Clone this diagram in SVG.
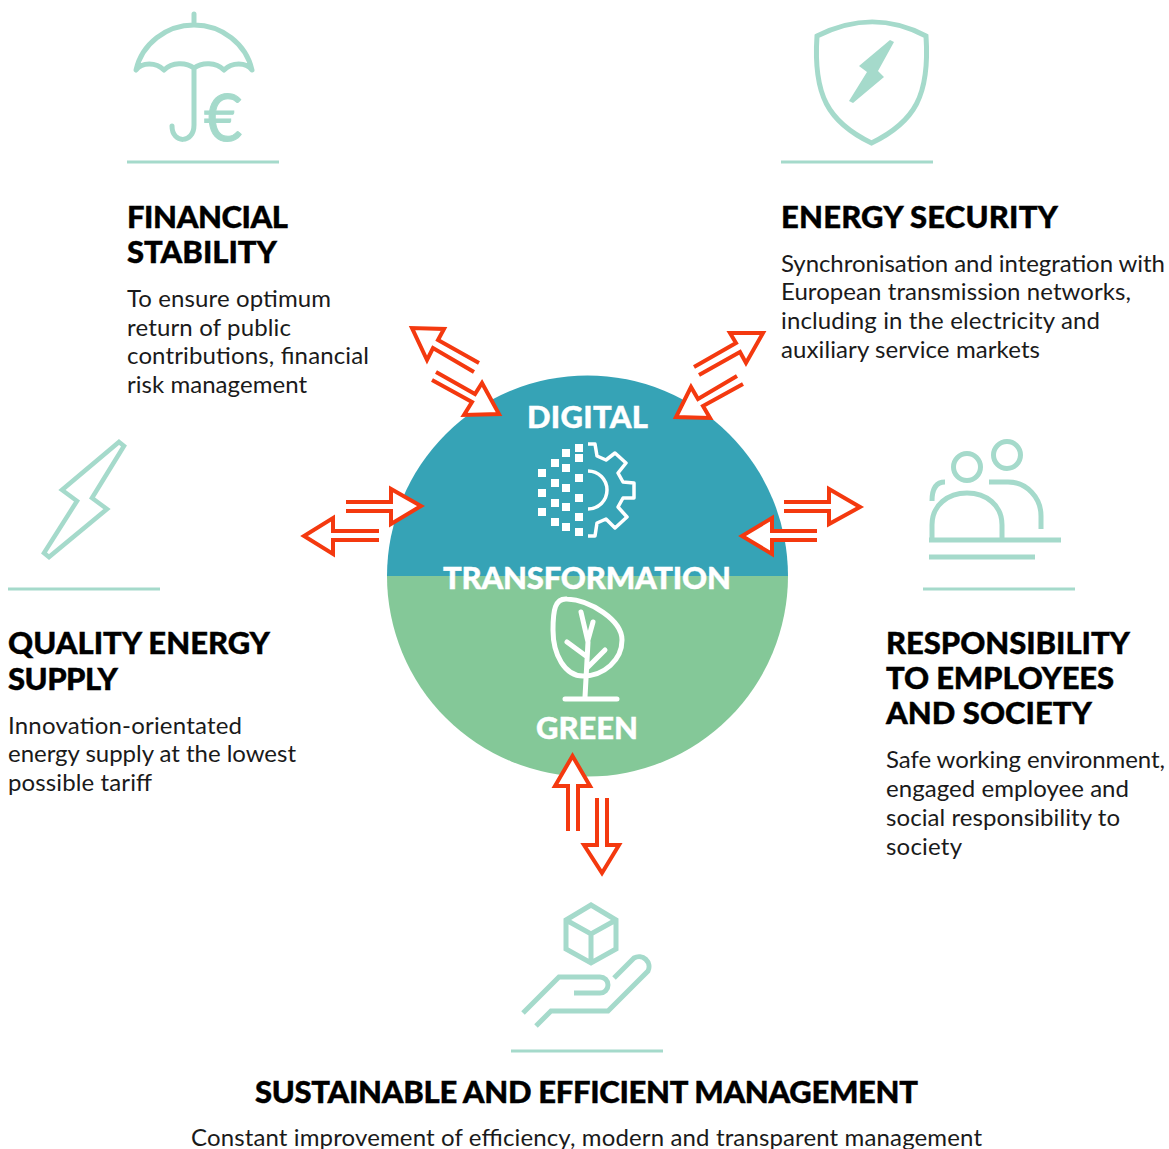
<svg xmlns="http://www.w3.org/2000/svg" width="1169" height="1149" viewBox="0 0 1169 1149">
<style>
.h{font-family:"Lato","Liberation Sans",sans-serif;font-weight:900;font-size:31px;fill:#000;stroke:#000;stroke-width:.4}
.b{font-family:"Lato","Liberation Sans",sans-serif;font-size:24px;fill:#1a1a1a}
.c{font-family:"Lato","Liberation Sans",sans-serif;font-weight:900;font-size:31px;fill:#fff;stroke:#fff;stroke-width:.4}
.i{fill:none;stroke:#a5dacb;stroke-width:5}
.r{fill:none;stroke:#a5dacb;stroke-width:3}
.a{fill:#fff;stroke:#f4390f;stroke-width:4}
.w{fill:none;stroke:#fff;stroke-width:5;stroke-linecap:round;stroke-linejoin:round}
.g{fill:none;stroke:#fff;stroke-width:3.5;stroke-linejoin:round}
</style>
<g id="hub">
<path d="M387 576A200.500 200.500 0 0 1 788 576Z" fill="#36a3b6"/>
<path d="M387 576A200.500 200.500 0 0 0 788 576Z" fill="#84c898"/>
<text class="c" x="527" y="428" textLength="121">DIGITAL</text>
<text class="c" x="443" y="589" textLength="288">TRANSFORMATION</text>
<text class="c" x="536" y="739" textLength="102">GREEN</text>
<g fill="#fff">
<rect x="538" y="469" width="8" height="8"/><rect x="538" y="489" width="8" height="8"/><rect x="538" y="508" width="8" height="8"/>
<rect x="551" y="459" width="8" height="8"/><rect x="551" y="479" width="8" height="8"/><rect x="551" y="499" width="8" height="8"/><rect x="551" y="518" width="8" height="8"/>
<rect x="562" y="449" width="8" height="8"/><rect x="562" y="464" width="8" height="8"/><rect x="562" y="484" width="8" height="8"/><rect x="562" y="503" width="8" height="8"/><rect x="562" y="523" width="8" height="8"/>
<rect x="575" y="444" width="8" height="8"/><rect x="575" y="454" width="8" height="8"/><rect x="575" y="474" width="8" height="8"/><rect x="575" y="494" width="8" height="8"/><rect x="575" y="513" width="8" height="8"/><rect x="575" y="528" width="8" height="8"/>
</g>
<path class="g" d="M588 444L595 444L597 456L606 460L615 453L626 463L618 473L623 482L634 483L634 498L623 498L618 507L627 517L615 528L606 519L597 523L595 536L588 536"/>
<path class="g" d="M588 471A19 19 0 0 1 588 509"/>
<path class="w" d="M567 599C590 600 622 620 622 640C622 660 604 676 583 676C565 676 553 655 553 630C553 610 555 598 567 599Z"/>
<path class="w" d="M581 612L588 642L585 697M593 622L588 640M567 642L586 656M605 650L587 668M565 699L617 699"/>
</g>
<g id="connectors">
<path class="a" d="M479 363L438 340L444 329L412 328L427 360L433 348L474 372"/>
<path class="a" d="M436 372L475 394L482 383L499 414L464 415L472 402L432 380"/>
<path class="a" d="M694 367L736 343L730 333L763 333L746 363L740 352L699 375"/>
<path class="a" d="M737 376L698 399L691 387L676 417L710 418L703 406L743 384"/>
<path class="a" d="M346 502L391 502L391 489L421 506L391 524L391 511L346 511"/>
<path class="a" d="M379 531L333 531L333 518L304 536L333 554L333 540L379 540"/>
<path class="a" d="M784 502L829 502L829 489L860 507L829 524L829 511L784 511"/>
<path class="a" d="M817 531L772 531L772 518L742 536L772 554L772 540L817 540"/>
<path class="a" d="M568 831L568 786L555 786L572.500 756L590 786L578 786L578 831"/>
<path class="a" d="M597 798L597 845L584 845L602 873L619 845L607 845L607 798"/>
</g>
<g id="financial-stability">
<path class="i" stroke-linecap="round" stroke-linejoin="round" d="M194 14L194 25M136 70C142 44 166 25 194 25C222 25 246 44 252 70C246 62 232 62 224 70C216 62 202 62 194 68C186 62 172 62 164 70C156 62 142 62 136 70ZM194 68L194 125C194 144 172 144 172 126"/>
<text x="204" y="141" font-family="Lato,'Liberation Sans',sans-serif" font-size="66" fill="#a5dacb" stroke="#a5dacb" stroke-width="1">€</text>
<line class="r" x1="127" y1="162" x2="279" y2="162"/>
<text class="h" x="127" y="228" textLength="161">FINANCIAL</text>
<text class="h" x="127" y="263" textLength="150">STABILITY</text>
<text class="b" x="127" y="307" textLength="204">To ensure optimum</text>
<text class="b" x="127" y="336" textLength="164">return of public</text>
<text class="b" x="127" y="364" textLength="242">contributions, financial</text>
<text class="b" x="127" y="393" textLength="180">risk management</text>
</g>
<g id="energy-security">
<path class="i" d="M817 36C855 17 890 17 926 36C930 95 915 122 871.500 143C828 122 813 95 817 36Z"/>
<path d="M890 40L894 42L878 71L884 77L853 103L849 101L867 72L859 66Z" fill="#a5dacb"/>
<line class="r" x1="781" y1="162" x2="933" y2="162"/>
<text class="h" x="781" y="228" textLength="277">ENERGY SECURITY</text>
<text class="b" x="781" y="272" textLength="384">Synchronisation and integration with</text>
<text class="b" x="781" y="300" textLength="350">European transmission networks,</text>
<text class="b" x="781" y="329" textLength="319">including in the electricity and</text>
<text class="b" x="781" y="358" textLength="259">auxiliary service markets</text>
</g>
<g id="quality-energy-supply">
<path d="M119 442L124 446L92 498L107 509L49 557L44 553L77 501L62 490Z" fill="none" stroke="#a5dacb" stroke-width="4.500"/>
<line class="r" x1="8" y1="589" x2="160" y2="589"/>
<text class="h" x="8" y="654" textLength="262">QUALITY ENERGY</text>
<text class="h" x="8" y="690" textLength="110">SUPPLY</text>
<text class="b" x="8" y="734" textLength="234">Innovation-orientated</text>
<text class="b" x="8" y="762" textLength="288">energy supply at the lowest</text>
<text class="b" x="8" y="791" textLength="144">possible tariff</text>
</g>
<g id="responsibility">
<circle cx="967" cy="467" r="13.500" class="i"/><circle cx="1007" cy="455" r="13.500" class="i"/>
<path class="i" d="M945 482C937 482 932 488 932 501M932 540L932 525C932 505 948 493 967 493C986 493 1002 505 1002 525L1002 540M989 482L1008 482C1027 482 1041 498 1041 516L1041 529M929 540L1061 540M929 557L1035 557"/>
<line class="r" x1="923" y1="589" x2="1075" y2="589"/>
<text class="h" x="886" y="654" textLength="244">RESPONSIBILITY</text>
<text class="h" x="886" y="689" textLength="228">TO EMPLOYEES</text>
<text class="h" x="886" y="724" textLength="206">AND SOCIETY</text>
<text class="b" x="886" y="768" textLength="279">Safe working environment,</text>
<text class="b" x="886" y="797" textLength="243">engaged employee and</text>
<text class="b" x="886" y="826" textLength="234">social responsibility to</text>
<text class="b" x="886" y="855" textLength="76">society</text>
</g>
<g id="sustainable-management">
<path class="i" d="M591 905L616 920L616 949L591 963L566 949L566 920ZM566 920L591 934L616 920M591 934L591 963"/>
<path class="i" d="M523 1013L559 977L600 977A8 8 0 0 1 600 993L574 993M536 1026L551 1011L608 1011L648 971A10 10 0 0 0 634 958L614 978"/>
<line class="r" x1="511" y1="1051" x2="663" y2="1051"/>
<text class="h" x="255" y="1103" textLength="663">SUSTAINABLE AND EFFICIENT MANAGEMENT</text>
<text class="b" x="191" y="1146" textLength="791">Constant improvement of efficiency, modern and transparent management</text>
</g>
</svg>
